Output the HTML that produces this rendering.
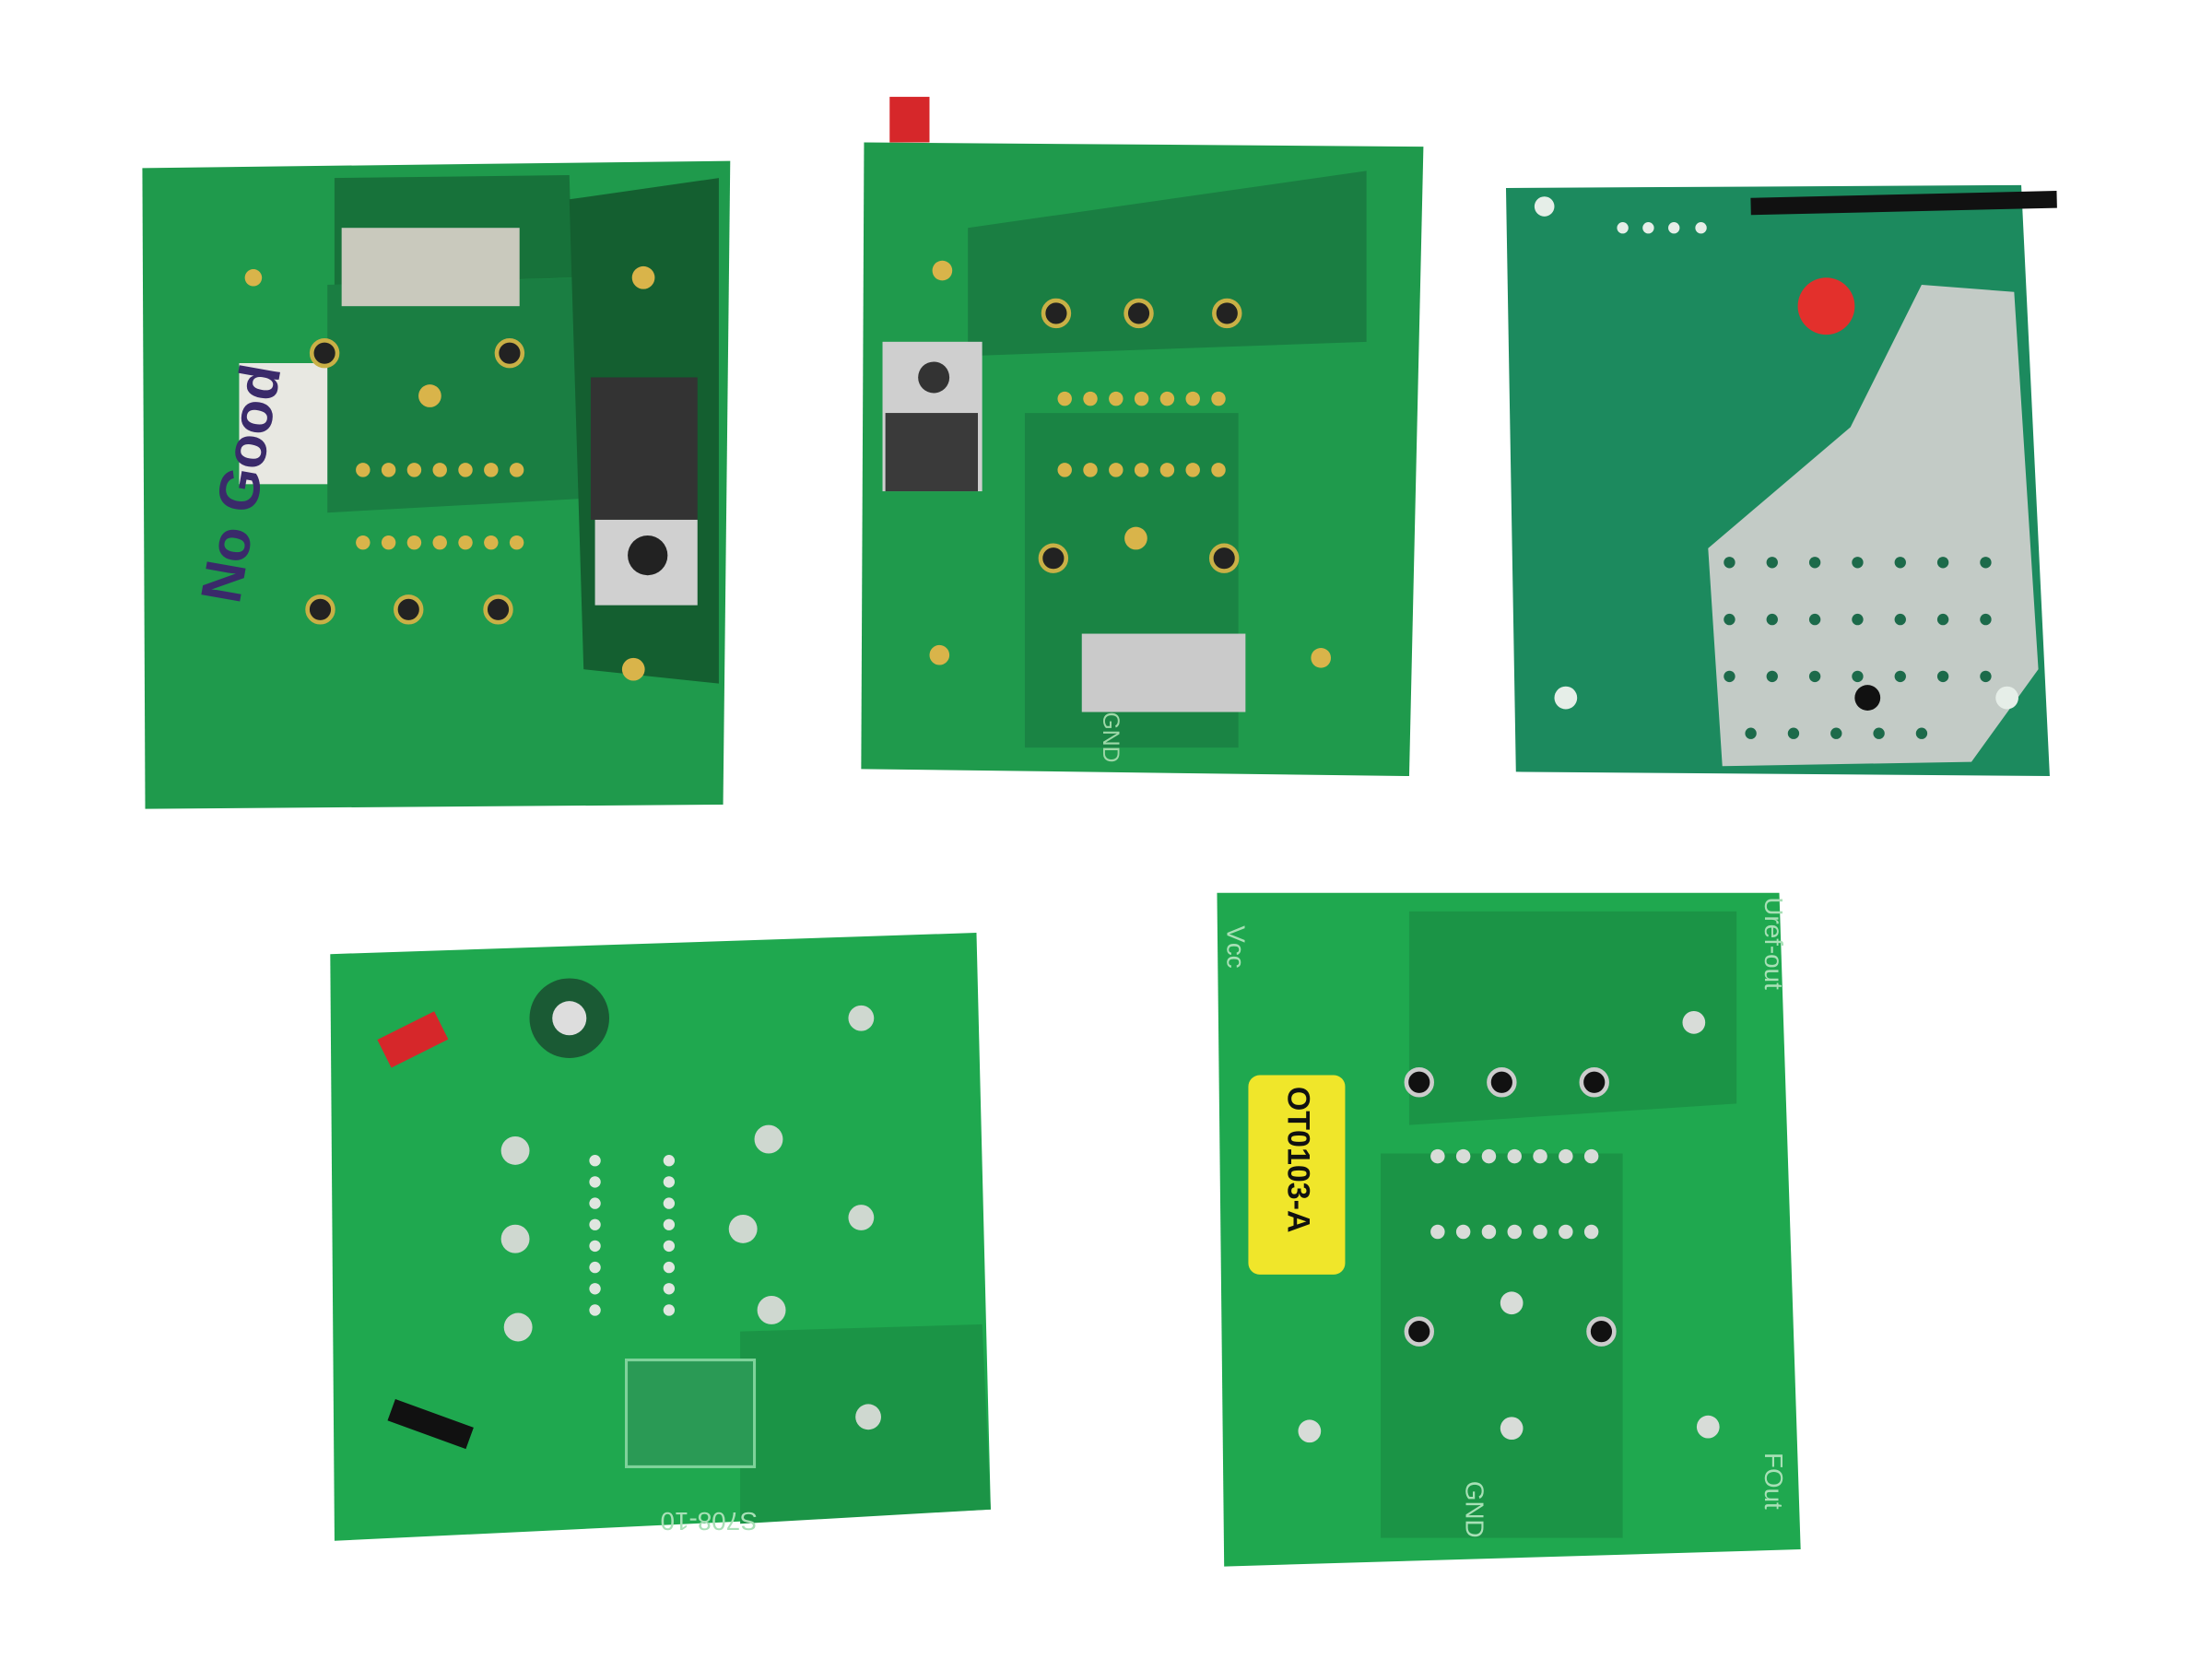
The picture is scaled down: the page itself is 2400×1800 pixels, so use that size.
<!DOCTYPE html>
<html><head><meta charset="utf-8"><style>
html,body{margin:0;padding:0;background:#fff;}
svg{display:block;}
text{font-family:"Liberation Sans",sans-serif;}
</style></head><body>
<svg width="2400" height="1800" viewBox="0 0 1554 1165" preserveAspectRatio="none" xmlns="http://www.w3.org/2000/svg">
<rect width="1554" height="1165" fill="#fff"/>
<!-- Board 1 -->
<polygon points="100,118 513,113 508,565 102,568" fill="#1f9a4c"/>
<polygon points="235,125 400,123 402,195 235,200" fill="#17723a"/>
<polygon points="230,200 410,195 412,350 230,360" fill="#1a7e42"/>
<polygon points="400,140 505,125 505,480 410,470" fill="#145f30"/>
<rect x="240" y="160" width="125" height="55" fill="#c9c9bd"/>
<rect x="168" y="255" width="62" height="85" fill="#e8e8e2"/>
<text x="168" y="425" transform="rotate(-80 168 425)" font-size="40" font-weight="bold" fill="#3a2a6a">No Good</text>
<rect x="415" y="265" width="75" height="100" fill="#333"/>
<rect x="418" y="365" width="72" height="60" fill="#d0d0d0"/>
<circle cx="455" cy="390" r="14" fill="#222"/>
<g fill="#222" stroke="#c9b046" stroke-width="3">
<circle cx="228" cy="248" r="9"/><circle cx="358" cy="248" r="9"/>
<circle cx="225" cy="428" r="9"/><circle cx="287" cy="428" r="9"/><circle cx="350" cy="428" r="9"/>
</g>
<g fill="#d9b44a">
<circle cx="255" cy="330" r="5"/><circle cx="273" cy="330" r="5"/><circle cx="291" cy="330" r="5"/><circle cx="309" cy="330" r="5"/><circle cx="327" cy="330" r="5"/><circle cx="345" cy="330" r="5"/><circle cx="363" cy="330" r="5"/>
<circle cx="255" cy="381" r="5"/><circle cx="273" cy="381" r="5"/><circle cx="291" cy="381" r="5"/><circle cx="309" cy="381" r="5"/><circle cx="327" cy="381" r="5"/><circle cx="345" cy="381" r="5"/><circle cx="363" cy="381" r="5"/>
<circle cx="302" cy="278" r="8"/><circle cx="452" cy="195" r="8"/><circle cx="445" cy="470" r="8"/><circle cx="178" cy="195" r="6"/>
</g>
<!-- Board 2 -->
<polygon points="607,100 1000,103 990,545 605,540" fill="#1f9a4c"/>
<polygon points="680,160 960,120 960,240 680,250" fill="#1a7e42"/>
<polygon points="720,290 870,290 870,525 720,525" fill="#1a8444"/>
<rect x="625" y="68" width="28" height="32" fill="#d6272a"/>
<rect x="620" y="240" width="70" height="105" fill="#cfcfcf"/>
<circle cx="656" cy="265" r="11" fill="#333"/>
<rect x="622" y="290" width="65" height="55" fill="#3a3a3a"/>
<rect x="760" y="445" width="115" height="55" fill="#cacaca"/>
<g fill="#222" stroke="#c9b046" stroke-width="3">
<circle cx="742" cy="220" r="9"/><circle cx="800" cy="220" r="9"/><circle cx="862" cy="220" r="9"/>
<circle cx="740" cy="392" r="9"/><circle cx="860" cy="392" r="9"/>
</g>
<g fill="#d9b44a">
<circle cx="748" cy="280" r="5"/><circle cx="766" cy="280" r="5"/><circle cx="784" cy="280" r="5"/><circle cx="802" cy="280" r="5"/><circle cx="820" cy="280" r="5"/><circle cx="838" cy="280" r="5"/><circle cx="856" cy="280" r="5"/>
<circle cx="748" cy="330" r="5"/><circle cx="766" cy="330" r="5"/><circle cx="784" cy="330" r="5"/><circle cx="802" cy="330" r="5"/><circle cx="820" cy="330" r="5"/><circle cx="838" cy="330" r="5"/><circle cx="856" cy="330" r="5"/>
<circle cx="798" cy="378" r="8"/><circle cx="662" cy="190" r="7"/><circle cx="660" cy="460" r="7"/><circle cx="928" cy="462" r="7"/>
</g>
<text x="775" y="500" transform="rotate(90 775 500)" font-size="16" fill="#9ed8a8">GND</text>
<!-- Board 3 -->
<polygon points="1058,132 1420,130 1440,545 1065,542" fill="#1c8a5e"/>
<polygon points="1350,200 1415,205 1432,470 1385,535 1210,538 1200,385 1300,300" fill="#c3cbc6"/>
<g fill="#1c6a4a">
<circle cx="1215" cy="395" r="4"/><circle cx="1245" cy="395" r="4"/><circle cx="1275" cy="395" r="4"/><circle cx="1305" cy="395" r="4"/><circle cx="1335" cy="395" r="4"/><circle cx="1365" cy="395" r="4"/><circle cx="1395" cy="395" r="4"/>
<circle cx="1215" cy="435" r="4"/><circle cx="1245" cy="435" r="4"/><circle cx="1275" cy="435" r="4"/><circle cx="1305" cy="435" r="4"/><circle cx="1335" cy="435" r="4"/><circle cx="1365" cy="435" r="4"/><circle cx="1395" cy="435" r="4"/>
<circle cx="1215" cy="475" r="4"/><circle cx="1245" cy="475" r="4"/><circle cx="1275" cy="475" r="4"/><circle cx="1305" cy="475" r="4"/><circle cx="1335" cy="475" r="4"/><circle cx="1365" cy="475" r="4"/><circle cx="1395" cy="475" r="4"/>
<circle cx="1230" cy="515" r="4"/><circle cx="1260" cy="515" r="4"/><circle cx="1290" cy="515" r="4"/><circle cx="1320" cy="515" r="4"/><circle cx="1350" cy="515" r="4"/>
</g>
<circle cx="1312" cy="490" r="9" fill="#111"/>
<circle cx="1283" cy="215" r="20" fill="#e3302c"/>
<path d="M1230,145 L1445,140" stroke="#111" stroke-width="12"/>
<g fill="#e6eee8"><circle cx="1085" cy="145" r="7"/><circle cx="1100" cy="490" r="8"/><circle cx="1410" cy="490" r="8"/><circle cx="1140" cy="160" r="4"/><circle cx="1158" cy="160" r="4"/><circle cx="1176" cy="160" r="4"/><circle cx="1195" cy="160" r="4"/></g>
<!-- Board 4 -->
<polygon points="232,670 686,655 696,1060 235,1082" fill="#1fa84f"/>
<polygon points="520,935 690,930 696,1060 520,1070" fill="#1b9446"/>
<rect x="440" y="955" width="90" height="75" fill="#2a9a55" stroke="#7fd29a" stroke-width="2"/>
<text x="532" y="1062" transform="rotate(180 532 1062)" font-size="18" fill="#a8e0b6">S708-10</text>
<path d="M270,740 L310,720" stroke="#d6272a" stroke-width="22"/>
<circle cx="400" cy="715" r="28" fill="#1a5a34"/><circle cx="400" cy="715" r="12" fill="#ddd"/>
<g fill="#cfd8d0">
<circle cx="362" cy="808" r="10"/><circle cx="362" cy="870" r="10"/><circle cx="364" cy="932" r="10"/><circle cx="540" cy="800" r="10"/><circle cx="522" cy="863" r="10"/><circle cx="605" cy="855" r="9"/><circle cx="605" cy="715" r="9"/><circle cx="610" cy="995" r="9"/><circle cx="542" cy="920" r="10"/>
</g>
<g fill="#e0e6e0">
<circle cx="418" cy="815" r="4"/><circle cx="418" cy="830" r="4"/><circle cx="418" cy="845" r="4"/><circle cx="418" cy="860" r="4"/><circle cx="418" cy="875" r="4"/><circle cx="418" cy="890" r="4"/><circle cx="418" cy="905" r="4"/><circle cx="418" cy="920" r="4"/>
<circle cx="470" cy="815" r="4"/><circle cx="470" cy="830" r="4"/><circle cx="470" cy="845" r="4"/><circle cx="470" cy="860" r="4"/><circle cx="470" cy="875" r="4"/><circle cx="470" cy="890" r="4"/><circle cx="470" cy="905" r="4"/><circle cx="470" cy="920" r="4"/>
</g>
<path d="M275,990 L330,1010" stroke="#111" stroke-width="16"/>
<!-- Board 5 -->
<polygon points="855,627 1250,627 1265,1088 860,1100" fill="#1fa84f"/>
<polygon points="990,640 1220,640 1220,775 990,790" fill="#1b9446"/>
<polygon points="970,810 1140,810 1140,1080 970,1080" fill="#1b9446"/>
<rect x="877" y="755" width="68" height="140" rx="8" fill="#f0e62a"/>
<text x="905" y="763" transform="rotate(90 905 763)" font-size="22" font-weight="bold" fill="#111">OT0103-A</text>
<g fill="#111" stroke="#ccc" stroke-width="3">
<circle cx="997" cy="760" r="9"/><circle cx="1055" cy="760" r="9"/><circle cx="1120" cy="760" r="9"/>
<circle cx="997" cy="935" r="9"/><circle cx="1125" cy="935" r="9"/>
</g>
<g fill="#d8dcd8">
<circle cx="1010" cy="812" r="5"/><circle cx="1028" cy="812" r="5"/><circle cx="1046" cy="812" r="5"/><circle cx="1064" cy="812" r="5"/><circle cx="1082" cy="812" r="5"/><circle cx="1100" cy="812" r="5"/><circle cx="1118" cy="812" r="5"/>
<circle cx="1010" cy="865" r="5"/><circle cx="1028" cy="865" r="5"/><circle cx="1046" cy="865" r="5"/><circle cx="1064" cy="865" r="5"/><circle cx="1082" cy="865" r="5"/><circle cx="1100" cy="865" r="5"/><circle cx="1118" cy="865" r="5"/>
<circle cx="1062" cy="915" r="8"/><circle cx="1062" cy="1003" r="8"/><circle cx="1190" cy="718" r="8"/><circle cx="920" cy="1005" r="8"/><circle cx="1200" cy="1002" r="8"/>
</g>
<text x="1030" y="1040" transform="rotate(90 1030 1040)" font-size="18" fill="#a8e0b6">GND</text>
<text x="1240" y="630" transform="rotate(90 1240 630)" font-size="18" fill="#a8e0b6">Uref-out</text>
<text x="1240" y="1020" transform="rotate(90 1240 1020)" font-size="18" fill="#a8e0b6">FOut</text>
<text x="862" y="680" transform="rotate(90 862 680)" font-size="18" fill="#a8e0b6" text-anchor="end">Vcc</text>
</svg>
</body></html>
